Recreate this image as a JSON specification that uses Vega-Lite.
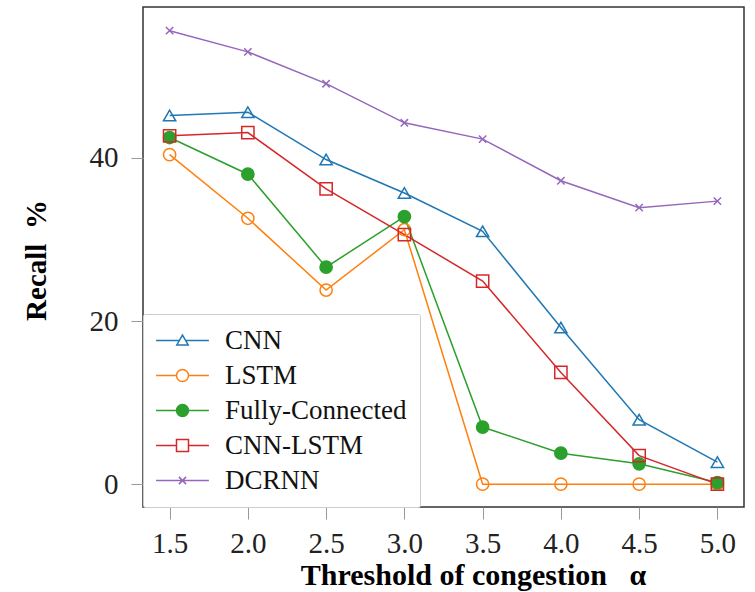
{
  "$schema": "https://vega.github.io/schema/vega-lite/v6.json",
  "width": 601,
  "height": 500,
  "autosize": "none",
  "padding": {"left": 143, "top": 7, "right": 11, "bottom": 85},
  "background": "white",
  "config": {
    "font": "Liberation Serif",
    "view": {"stroke": "#333333", "strokeWidth": 1.5},
    "legend": {
      "orient": "bottom-left",
      "offset": 0,
      "padding": 13,
      "rowPadding": 7,
      "strokeColor": "#cccccc",
      "fillColor": "white",
      "cornerRadius": 2,
      "labelFont": "Liberation Serif",
      "labelFontSize": 27,
      "labelColor": "#111111",
      "labelLimit": 400,
      "symbolSize": 144,
      "symbolOffset": 13,
      "labelOffset": 29,
      "symbolStrokeWidth": 1.5
    }
  },
  "data": {
    "values": [
      {"alpha": 1.5, "model": "CNN", "recall": 45.2},
      {"alpha": 2.0, "model": "CNN", "recall": 45.6},
      {"alpha": 2.5, "model": "CNN", "recall": 39.8},
      {"alpha": 3.0, "model": "CNN", "recall": 35.7},
      {"alpha": 3.5, "model": "CNN", "recall": 31.0},
      {"alpha": 4.0, "model": "CNN", "recall": 19.2},
      {"alpha": 4.5, "model": "CNN", "recall": 7.9},
      {"alpha": 5.0, "model": "CNN", "recall": 2.7},
      {"alpha": 1.5, "model": "LSTM", "recall": 40.4},
      {"alpha": 2.0, "model": "LSTM", "recall": 32.6},
      {"alpha": 2.5, "model": "LSTM", "recall": 23.8},
      {"alpha": 3.0, "model": "LSTM", "recall": 31.2},
      {"alpha": 3.5, "model": "LSTM", "recall": 0},
      {"alpha": 4.0, "model": "LSTM", "recall": 0},
      {"alpha": 4.5, "model": "LSTM", "recall": 0},
      {"alpha": 5.0, "model": "LSTM", "recall": 0},
      {"alpha": 1.5, "model": "Fully-Connected", "recall": 42.5},
      {"alpha": 2.0, "model": "Fully-Connected", "recall": 38.0},
      {"alpha": 2.5, "model": "Fully-Connected", "recall": 26.6},
      {"alpha": 3.0, "model": "Fully-Connected", "recall": 32.8},
      {"alpha": 3.5, "model": "Fully-Connected", "recall": 7.0},
      {"alpha": 4.0, "model": "Fully-Connected", "recall": 3.8},
      {"alpha": 4.5, "model": "Fully-Connected", "recall": 2.5},
      {"alpha": 5.0, "model": "Fully-Connected", "recall": 0.2},
      {"alpha": 1.5, "model": "CNN-LSTM", "recall": 42.7},
      {"alpha": 2.0, "model": "CNN-LSTM", "recall": 43.1},
      {"alpha": 2.5, "model": "CNN-LSTM", "recall": 36.2},
      {"alpha": 3.0, "model": "CNN-LSTM", "recall": 30.6},
      {"alpha": 3.5, "model": "CNN-LSTM", "recall": 24.9},
      {"alpha": 4.0, "model": "CNN-LSTM", "recall": 13.7},
      {"alpha": 4.5, "model": "CNN-LSTM", "recall": 3.5},
      {"alpha": 5.0, "model": "CNN-LSTM", "recall": 0},
      {"alpha": 1.5, "model": "DCRNN", "recall": 55.6},
      {"alpha": 2.0, "model": "DCRNN", "recall": 53.0},
      {"alpha": 2.5, "model": "DCRNN", "recall": 49.1},
      {"alpha": 3.0, "model": "DCRNN", "recall": 44.3},
      {"alpha": 3.5, "model": "DCRNN", "recall": 42.3},
      {"alpha": 4.0, "model": "DCRNN", "recall": 37.2},
      {"alpha": 4.5, "model": "DCRNN", "recall": 33.9},
      {"alpha": 5.0, "model": "DCRNN", "recall": 34.7}
    ]
  },
  "encoding": {
    "x": {
      "field": "alpha",
      "type": "quantitative",
      "scale": {"domain": [1.33, 5.17], "nice": false, "zero": false},
      "axis": {
        "values": [1.5, 2.0, 2.5, 3.0, 3.5, 4.0, 4.5, 5.0],
        "format": ".1f",
        "domain": false,
        "grid": false,
        "tickSize": 12,
        "tickColor": "#999999",
        "tickWidth": 1,
        "labelFont": "Liberation Serif",
        "labelFontSize": 29,
        "labelColor": "#222222",
        "labelPadding": 10,
        "title": "Threshold of congestion\u00a0\u00a0\u00a0α",
        "titleFont": "Liberation Serif",
        "titleFontSize": 30,
        "titleFontWeight": "bold",
        "titleColor": "#000000",
        "titleBaseline": "alphabetic",
        "titleAlign": "center",
        "titleAnchor": "middle",
        "titleX": 330,
        "titleY": 77
      }
    },
    "y": {
      "field": "recall",
      "type": "quantitative",
      "scale": {"domain": [-2.8, 58.5], "nice": false, "zero": false},
      "axis": {
        "values": [0, 20, 40],
        "domain": false,
        "grid": false,
        "tickSize": 12,
        "tickColor": "#999999",
        "tickWidth": 1,
        "labelFont": "Liberation Serif",
        "labelFontSize": 29,
        "labelColor": "#222222",
        "labelPadding": 13,
        "title": "Recall\u00a0\u00a0%",
        "titleFont": "Liberation Serif",
        "titleFontSize": 29,
        "titleFontWeight": "bold",
        "titleColor": "#000000",
        "titleBaseline": "alphabetic",
        "titleAlign": "center",
        "titleAngle": 270,
        "titleX": -98,
        "titleY": 253
      }
    }
  },
  "layer": [
    {
      "mark": {"type": "line", "strokeWidth": 1.5},
      "encoding": {
        "color": {
          "field": "model",
          "type": "nominal",
          "scale": {
            "domain": ["CNN", "LSTM", "Fully-Connected", "CNN-LSTM", "DCRNN"],
            "range": ["#1f77b4", "#ff7f0e", "#2ca02c", "#d62728", "#9467bd"]
          },
          "legend": null
        }
      }
    },
    {
      "mark": {"type": "point", "size": 150, "strokeWidth": 1.5, "opacity": 1},
      "encoding": {
        "stroke": {
          "field": "model",
          "type": "nominal",
          "scale": {
            "domain": ["CNN", "LSTM", "Fully-Connected", "CNN-LSTM", "DCRNN"],
            "range": ["#1f77b4", "#ff7f0e", "#2ca02c", "#d62728", "#9467bd"]
          },
          "legend": null
        },
        "fill": {
          "field": "model",
          "type": "nominal",
          "scale": {
            "domain": ["CNN", "LSTM", "Fully-Connected", "CNN-LSTM", "DCRNN"],
            "range": ["transparent", "transparent", "#2ca02c", "transparent", "transparent"]
          },
          "legend": null
        },
        "shape": {
          "field": "model",
          "type": "nominal",
          "scale": {
            "domain": ["CNN", "LSTM", "Fully-Connected", "CNN-LSTM", "DCRNN"],
            "range": ["triangle-up", "circle", "circle", "square", "M-0.6,-0.6L0.6,0.6M-0.6,0.6L0.6,-0.6"]
          },
          "legend": null
        }
      }
    },
    {
      "transform": [{"filter": "datum.model == 'none'"}],
      "mark": {"type": "point", "size": 144, "strokeWidth": 1.5, "opacity": 1},
      "encoding": {
        "stroke": {
          "field": "model",
          "type": "nominal",
          "scale": {
            "domain": ["CNN", "LSTM", "Fully-Connected", "CNN-LSTM", "DCRNN"],
            "range": ["#1f77b4", "#ff7f0e", "#2ca02c", "#d62728", "#9467bd"]
          },
          "legend": {"title": null}
        },
        "fill": {
          "field": "model",
          "type": "nominal",
          "scale": {
            "domain": ["CNN", "LSTM", "Fully-Connected", "CNN-LSTM", "DCRNN"],
            "range": ["transparent", "transparent", "#2ca02c", "transparent", "transparent"]
          },
          "legend": {"title": null}
        },
        "shape": {
          "field": "model",
          "type": "nominal",
          "scale": {
            "domain": ["CNN", "LSTM", "Fully-Connected", "CNN-LSTM", "DCRNN"],
            "range": [
              "M-4.4,0H-0.52M0.52,0H4.4M0,-0.9L0.95,0.75L-0.95,0.75Z",
              "M-4.4,0H-1M1,0H4.4M-1,0A1,1 0 1,0 1,0A1,1 0 1,0 -1,0Z",
              "M-4.4,0H-1M1,0H4.4M-1,0A1,1 0 1,0 1,0A1,1 0 1,0 -1,0Z",
              "M-4.4,0H-1M1,0H4.4M-1,-1H1V1H-1Z",
              "M-4.4,0H4.4M-0.6,-0.6L0.6,0.6M-0.6,0.6L0.6,-0.6"
            ]
          },
          "legend": {"title": null}
        }
      }
    }
  ],
  "resolve": {
    "scale": {"color": "independent", "stroke": "independent", "fill": "independent", "shape": "independent"}
  }
}
